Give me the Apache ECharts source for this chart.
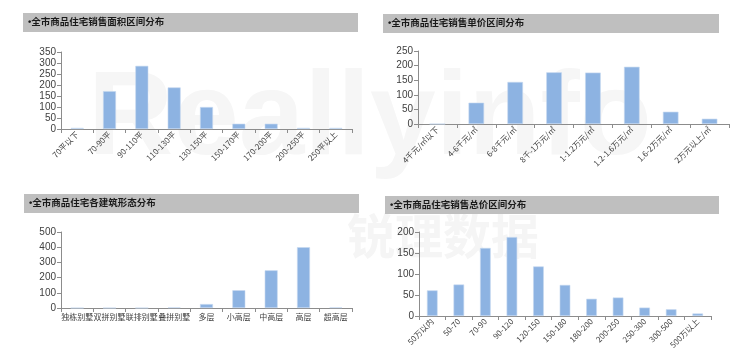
<!DOCTYPE html>
<html><head><meta charset="utf-8">
<script src="https://cdn.jsdelivr.net/npm/echarts@6/dist/echarts.min.js"></script>
<style>html,body{margin:0;padding:0;background:#fff}#c{width:740px;height:356px}</style>
</head><body><div id="c"></div>
<script>
const areaCats = ['70平以下','70-90平','90-110平','110-130平','130-150平','150-170平','170-200平','200-250平','250平以上'];
const areaVals = [5,172,287,189,100,24,24,5,5];
const priceCats = ['4千元/㎡以下','4-6千元/㎡','6-8千元/㎡','8千-1万元/㎡','1-1.2万元/㎡','1.2-1.6万元/㎡','1.6-2万元/㎡','2万元以上/㎡'];
const priceVals = [0,73,144,177,176,196,42,18];
const typeCats = ['独栋别墅','双拼别墅','联排别墅','叠拼别墅','多层','小高层','中高层','高层','超高层'];
const typeVals = [0,0,0,4,26,117,248,400,4];
const totalCats = ['50万以内','50-70','70-90','90-120','120-150','150-180','180-200','200-250','250-300','300-500','500万以上'];
const totalVals = [61,75,162,188,118,74,41,44,20,16,6];
const titles = ['•全市商品住宅销售面积区间分布','•全市商品住宅销售单价区间分布','•全市商品住宅各建筑形态分布','•全市商品住宅销售总价区间分布'];

const FONT = '"Noto Sans CJK SC", "Liberation Sans", sans-serif';
const TFONT = '"Liberation Sans", "Noto Sans CJK SC", sans-serif';
const chart = echarts.init(document.getElementById('c'));
const grids = [
  {left:61, top:52, width:291, height:77},
  {left:418, top:51, width:311, height:73},
  {left:61, top:232, width:291, height:76},
  {left:419, top:232, width:292, height:84}
];
const bars = [
  {x:23,y:13,w:335,h:19},
  {x:383,y:14,w:336,h:19},
  {x:24,y:194,w:335,h:19},
  {x:385,y:196,w:334,h:18}
];
const cats = [areaCats, priceCats, typeCats, totalCats];
const vals = [areaVals, priceVals, typeVals, totalVals];
const yMax = [350,250,500,200];
const yInt = [50,50,100,50];
const rot = [45,45,0,45];
const axisColor = '#8c8c8c';

const graphic = [
  {type:'text', z:-10, left:88, top:62, style:{text:'Reallyinfo', fill:'#f6f6f6', font:'bold 118px "Liberation Sans", sans-serif'}},
  {type:'text', z:-10, left:347, top:212, style:{text:'锐理数据', fill:'#f5f5f5', font:'bold 48px "Noto Sans CJK SC", sans-serif'}}
];
bars.forEach((b,i)=>{
  graphic.push({type:'rect', shape:{x:b.x,y:b.y,width:b.w,height:b.h}, style:{fill:'#bfbfbf'}});
  graphic.push({type:'text', x:b.x+5, y:b.y+b.h/2, style:{text:titles[i], fill:'#1a1a1a', font:'bold 9.5px '+TFONT, verticalAlign:'middle'}});
});

const option = {
  animation:false,
  graphic: graphic,
  grid: grids,
  xAxis: cats.map((c,i)=>({
    type:'category', gridIndex:i, data:c,
    axisLine:{lineStyle:{color:axisColor}},
    axisTick:{show:true, alignWithLabel:false, length:4, lineStyle:{color:axisColor}},
    axisLabel:{interval:0, rotate:rot[i], fontSize:8, color:'#404040', fontFamily:FONT, margin: rot[i]?4:5}
  })),
  yAxis: vals.map((v,i)=>({
    type:'value', gridIndex:i, min:0, max:yMax[i], interval:yInt[i],
    axisLine:{show:true, lineStyle:{color:axisColor}},
    axisTick:{show:true, length:4, lineStyle:{color:axisColor}},
    splitLine:{show:false},
    axisLabel:{fontSize:10, color:'#404040', fontFamily:'"Liberation Sans", sans-serif', margin:5}
  })),
  series: vals.map((v,i)=>({
    type:'bar', xAxisIndex:i, yAxisIndex:i, data:v, barWidth:'40%',
    itemStyle:{color:'#8db3e2', borderColor:'#c6d9f0', borderWidth:0.6}
  }))
};
chart.setOption(option);
</script></body></html>
